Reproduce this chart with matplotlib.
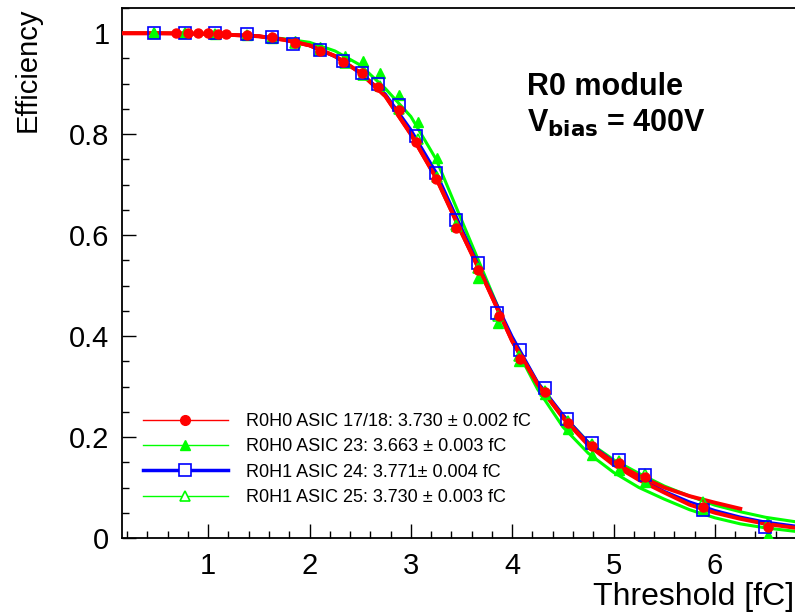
import matplotlib
matplotlib.use("Agg")
import matplotlib.pyplot as plt
from matplotlib.ticker import MultipleLocator, FixedLocator
from matplotlib.lines import Line2D

plt.rcParams['font.family'] = ['Liberation Sans', 'DejaVu Sans']

# ---------------- data ----------------
labels = ["R0H0 ASIC 17/18: 3.730 \u00b1 0.002 fC",
          "R0H0 ASIC 23: 3.663 \u00b1 0.003 fC",
          "R0H1 ASIC 24: 3.771\u00b1 0.004 fC",
          "R0H1 ASIC 25: 3.730 \u00b1 0.003 fC"]

# measured points
red_x = [0.68, 0.80, 0.90, 1.00, 1.10, 1.18, 1.38, 1.63, 1.86, 2.10, 2.33, 2.52, 2.68,
         2.88, 3.05, 3.25, 3.45, 3.66, 3.87, 4.08, 4.32, 4.55, 4.79, 5.05, 5.31, 5.88, 6.52]
red_y = [1.0, 1.0, 1.0, 1.0, 0.999, 0.999, 0.997, 0.992, 0.980, 0.965, 0.944, 0.922, 0.893,
         0.848, 0.785, 0.712, 0.615, 0.530, 0.440, 0.355, 0.290, 0.228, 0.183, 0.148, 0.120, 0.062, 0.022]

g23_x = [0.47, 0.77, 1.07, 1.38, 1.63, 1.86, 2.10, 2.35, 2.53, 2.70, 2.88, 3.07, 3.26,
         3.45, 3.66, 3.86, 4.07, 4.32, 4.55, 4.79, 5.05, 5.31, 5.88, 6.52]
g23_y = [1.0, 1.0, 0.998, 0.996, 0.990, 0.985, 0.972, 0.955, 0.945, 0.921, 0.877, 0.824, 0.752,
         0.618, 0.515, 0.425, 0.350, 0.285, 0.215, 0.165, 0.135, 0.110, 0.055, 0.005]

b24_x = [0.47, 0.77, 1.07, 1.38, 1.63, 1.84, 2.10, 2.33, 2.52, 2.68, 2.88, 3.05, 3.25,
         3.45, 3.66, 3.85, 4.08, 4.32, 4.54, 4.79, 5.05, 5.31, 5.88, 6.49]
b24_y = [1.0, 1.0, 1.0, 0.998, 0.992, 0.978, 0.966, 0.945, 0.921, 0.900, 0.857, 0.796, 0.723,
         0.630, 0.545, 0.446, 0.372, 0.298, 0.235, 0.188, 0.154, 0.124, 0.055, 0.022]

g25_x = [0.47, 0.77, 1.07, 1.38, 1.63, 1.86, 2.10, 2.35, 2.53, 2.70, 2.88, 3.07, 3.26,
         3.45, 3.66, 3.86, 4.07, 4.32, 4.55, 4.79, 5.05, 5.31, 5.88, 6.52]
g25_y = [1.0, 1.0, 0.999, 0.997, 0.990, 0.980, 0.966, 0.942, 0.918, 0.895, 0.850, 0.790, 0.716,
         0.620, 0.535, 0.440, 0.360, 0.292, 0.232, 0.186, 0.152, 0.126, 0.072, 0.030]

# fitted curves
fit_x = [0.15, 0.5, 1.0, 1.5, 1.75, 2.0, 2.25, 2.5, 2.75, 3.0, 3.25, 3.5, 3.75, 4.0,
         4.25, 4.5, 4.75, 5.0, 5.25, 5.5, 5.75, 6.0, 6.25, 6.5, 6.8]
fit_red_a = [1.0, 1.0, 0.999, 0.994, 0.987, 0.976, 0.955, 0.922, 0.875, 0.800, 0.713, 0.605, 0.500,
             0.390, 0.305, 0.240, 0.186, 0.150, 0.123, 0.100, 0.083, 0.070, 0.058]
fit_red_b = [1.0, 1.0, 0.999, 0.994, 0.987, 0.976, 0.955, 0.922, 0.875, 0.800, 0.713, 0.605, 0.500,
             0.390, 0.305, 0.238, 0.184, 0.145, 0.115, 0.090, 0.066, 0.050, 0.038, 0.028, 0.020]
fit_blue = [1.0, 1.0, 0.999, 0.995, 0.988, 0.975, 0.953, 0.922, 0.880, 0.810, 0.725, 0.615, 0.505,
            0.400, 0.310, 0.245, 0.190, 0.152, 0.120, 0.093, 0.072, 0.055, 0.042, 0.032, 0.024]
fit_g23 = [1.0, 1.0, 0.999, 0.994, 0.989, 0.982, 0.965, 0.937, 0.890, 0.835, 0.750, 0.630, 0.510,
           0.390, 0.295, 0.220, 0.168, 0.130, 0.100, 0.077, 0.056, 0.040, 0.028, 0.020, 0.013]
fit_g25 = [1.0, 1.0, 0.999, 0.994, 0.987, 0.976, 0.955, 0.922, 0.877, 0.805, 0.718, 0.610, 0.503,
           0.395, 0.308, 0.243, 0.190, 0.155, 0.128, 0.103, 0.083, 0.065, 0.052, 0.041, 0.032]

x_ticks = [1, 2, 3, 4, 5, 6]
y_ticks = [0, 0.2, 0.4, 0.6, 0.8, 1.0]
y_ticklabels = ["0", "0.2", "0.4", "0.6", "0.8", "1"]

RED, GREEN, BLUE = "#ff0000", "#00ff00", "#0000ff"

# ---------------- figure ----------------
W, H = 795, 613
fig = plt.figure(figsize=(W / 100, H / 100), dpi=100)
ax = fig.add_axes([122 / W, (H - 538) / H, (W - 122) / W, (538 - 8) / H])

# fit lines
ax.plot(fit_x, fit_g25, color=GREEN, lw=2.2, zorder=2)
ax.plot(fit_x, fit_g23, color=GREEN, lw=2.2, zorder=2)
ax.plot(fit_x, fit_blue, color=BLUE, lw=1.8, zorder=2)
ax.plot(fit_x[:len(fit_red_b)], fit_red_b, color=RED, lw=2.8, zorder=3)
ax.plot(fit_x[:len(fit_red_a)], fit_red_a, color=RED, lw=2.8, zorder=3)

# markers
ax.plot(g25_x, g25_y, ls='none', marker='^', ms=7, mfc='none', mec=GREEN, mew=1.2, zorder=4)
ax.plot(g23_x, g23_y, ls='none', marker='^', ms=7, color=GREEN, zorder=4)
ax.plot(b24_x, b24_y, ls='none', marker='s', ms=8.5, mfc='none', mec=BLUE, mew=1.2, zorder=4)
ax.plot(red_x, red_y, ls='none', marker='o', ms=6.5, color=RED, zorder=5)

ax.set_xlim(0.15, 6.79)
ax.set_ylim(0, 1.05)

ax.xaxis.set_major_locator(FixedLocator(x_ticks))
ax.xaxis.set_minor_locator(MultipleLocator(0.2))
ax.yaxis.set_major_locator(FixedLocator(y_ticks))
ax.set_yticklabels(y_ticklabels)
ax.yaxis.set_minor_locator(MultipleLocator(0.05))
ax.tick_params(which='both', direction='in', width=1.0, labelsize=21, colors='black')
ax.tick_params(which='major', length=10)
ax.tick_params(which='minor', length=5)
ax.tick_params(axis='x', pad=10)
ax.tick_params(axis='y', pad=9)
for s in ['left', 'bottom', 'top']:
    ax.spines[s].set_linewidth(1.3)
ax.spines['right'].set_visible(False)

fig.text(794 / W, 1 - 597 / H, "Threshold [fC]", fontsize=23, ha='right', va='center')
fig.text(28 / W, 1 - 8 / H, "Efficiency", fontsize=21, ha='center', va='top', rotation=90)

fig.text(527 / W, 1 - 87 / H, "R0 module", fontsize=22, fontweight='bold', ha='left', va='center')
fig.text(527 / W, 1 - 123 / H, r"V$_{\mathbf{bias}}$ = 400V", fontsize=22, fontweight='bold',
         ha='left', va='center')

handles = [
    Line2D([], [], color=RED, lw=1.0, marker='o', ms=7),
    Line2D([], [], color=GREEN, lw=1.0, marker='^', ms=7),
    Line2D([], [], color=BLUE, lw=2.5, marker='s', ms=9, mfc='white', mec=BLUE, mew=1.2),
    Line2D([], [], color=GREEN, lw=1.0, marker='^', ms=7, mfc='white', mec=GREEN, mew=1.2),
]
leg = fig.legend(handles, labels, loc='upper left', bbox_to_anchor=(143 / W, 1 - 413 / H),
                 frameon=False, fontsize=13, handlelength=4.7, handletextpad=1.0,
                 labelspacing=0.46, borderpad=0, borderaxespad=0)

fig.savefig("out.png", dpi=100)
